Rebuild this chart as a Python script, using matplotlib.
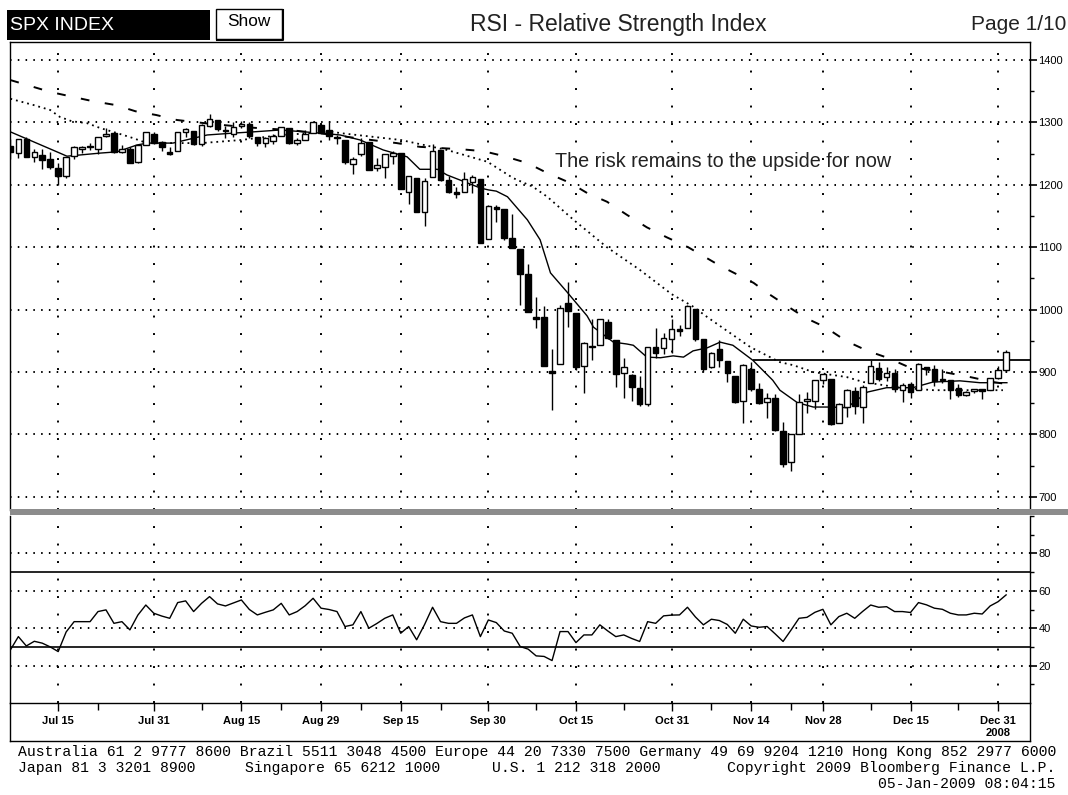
import numpy as np
import pandas as pd
import matplotlib
matplotlib.use('Agg')
import matplotlib.pyplot as plt
from matplotlib.lines import Line2D
from matplotlib.patches import Rectangle

plt.rcParams['font.family'] = ['Liberation Sans', 'DejaVu Sans']
plt.rcParams['axes.linewidth'] = 1.0

# trading days shown (NYSE holidays dropped)
holidays = ['2008-09-01', '2008-11-27', '2008-12-25', '2009-01-01']
dates = pd.bdate_range('2008-07-07', '2009-01-02')
dates = dates[~dates.isin(pd.to_datetime(holidays))]

# SPX daily candles
opens = [1262.9, 1251.8, 1273.4, 1245.3, 1248.7, 1241.6, 1226.8, 1214.7, 1246.3, 1258.2,
         1261.8, 1257.1, 1278.9, 1283.2, 1253.5, 1257.8, 1236.4, 1264.5, 1281.4, 1269.4,
         1253.3, 1254.9, 1284.0, 1286.5, 1266.3, 1294.4, 1304.8, 1288.6, 1282.1, 1293.9,
         1298.1, 1276.7, 1267.3, 1271.1, 1277.6, 1290.5, 1267.0, 1271.3, 1283.8, 1296.5,
         1287.8, 1276.6, 1271.8, 1233.2, 1249.5, 1268.0, 1227.5, 1229.0, 1245.9, 1250.9,
         1188.3, 1210.3, 1157.1, 1213.1, 1255.4, 1207.6, 1188.8, 1187.9, 1204.5, 1209.1,
         1113.8, 1164.2, 1160.6, 1115.2, 1097.6, 1057.6, 988.9, 988.4, 902.3, 912.8,
         1010.0, 994.6, 909.5, 942.3, 943.5, 980.4, 951.7, 899.1, 895.2, 874.3,
         848.9, 939.5, 939.4, 953.1, 968.7, 971.3, 1001.8, 952.4, 907.4, 936.8,
         917.2, 893.4, 853.1, 904.4, 873.2, 852.3, 859.0, 805.9, 755.8, 801.2,
         853.4, 852.9, 886.9, 888.6, 817.9, 843.6, 869.8, 844.4, 882.7, 906.5,
         892.2, 898.4, 871.8, 881.1, 871.5, 908.2, 905.0, 887.0, 887.2, 874.3,
         863.9, 869.5, 872.4, 870.6, 890.6, 903.0]
highs = [1274.0, 1274.2, 1277.4, 1257.7, 1257.1, 1253.5, 1234.4, 1245.5, 1262.3, 1262.2,
         1267.7, 1277.4, 1291.2, 1283.2, 1263.2, 1260.1, 1264.4, 1284.3, 1284.9, 1270.5,
         1260.5, 1284.9, 1291.7, 1286.5, 1297.9, 1313.2, 1304.8, 1294.0, 1300.1, 1302.2,
         1300.2, 1276.7, 1276.0, 1281.6, 1293.1, 1290.5, 1275.7, 1288.0, 1300.7, 1297.6,
         1303.0, 1280.6, 1271.8, 1244.9, 1274.4, 1268.7, 1243.9, 1250.0, 1255.1, 1250.9,
         1214.8, 1210.3, 1211.1, 1265.1, 1255.4, 1214.0, 1197.4, 1220.0, 1215.8, 1209.1,
         1168.0, 1167.0, 1160.6, 1153.8, 1097.6, 1072.9, 1021.1, 1005.3, 936.4, 1006.9,
         1044.3, 994.6, 947.7, 984.6, 985.4, 985.4, 951.7, 922.8, 896.3, 893.8,
         940.5, 970.0, 963.2, 984.4, 975.5, 1007.5, 1001.8, 952.4, 931.5, 952.0,
         917.2, 893.4, 913.0, 916.9, 882.3, 865.9, 864.6, 820.5, 801.2, 865.6,
         868.9, 887.7, 896.3, 888.6, 850.5, 873.1, 875.6, 879.4, 918.6, 916.3,
         908.3, 904.6, 883.2, 884.6, 914.7, 908.2, 911.0, 905.5, 887.4, 880.4,
         869.8, 873.7, 873.7, 891.1, 910.3, 934.7]
lows = [1240.7, 1242.8, 1244.6, 1236.8, 1225.4, 1225.0, 1200.4, 1211.4, 1241.4, 1251.8,
        1255.7, 1248.8, 1276.1, 1251.5, 1251.8, 1234.4, 1234.4, 1264.5, 1265.7, 1254.5,
        1247.5, 1254.7, 1276.0, 1264.3, 1262.1, 1292.8, 1285.6, 1274.9, 1276.4, 1290.7,
        1274.5, 1263.1, 1261.2, 1265.2, 1277.6, 1264.9, 1263.2, 1271.3, 1283.8, 1282.7,
        1272.2, 1265.6, 1232.8, 1217.2, 1247.1, 1224.5, 1221.6, 1211.5, 1233.8, 1192.7,
        1169.3, 1155.9, 1133.5, 1213.1, 1205.6, 1187.2, 1179.8, 1187.9, 1187.5, 1106.4,
        1113.8, 1140.8, 1111.4, 1098.1, 1008.0, 996.2, 971.0, 909.2, 839.8, 912.8,
        972.1, 904.0, 865.8, 918.7, 943.5, 952.5, 875.8, 858.4, 852.9, 845.8,
        845.3, 922.3, 928.5, 931.0, 958.6, 971.3, 949.9, 899.7, 906.9, 907.5,
        884.9, 850.5, 818.7, 869.9, 849.0, 826.8, 806.2, 747.8, 741.0, 801.2,
        835.0, 841.4, 881.2, 815.7, 817.9, 827.6, 833.6, 818.4, 882.7, 885.4,
        885.5, 868.7, 851.4, 857.7, 871.5, 895.9, 877.4, 883.0, 857.1, 860.1,
        861.4, 866.5, 857.1, 870.6, 889.6, 899.4]
closes = [1252.3, 1273.7, 1244.7, 1253.4, 1239.5, 1228.3, 1214.9, 1245.4, 1260.3, 1260.7,
          1260.0, 1277.0, 1282.2, 1252.5, 1257.8, 1234.4, 1263.2, 1284.3, 1267.4, 1260.3,
          1249.0, 1284.9, 1289.2, 1266.1, 1296.3, 1305.3, 1289.6, 1285.8, 1292.9, 1298.2,
          1278.6, 1266.7, 1274.5, 1277.7, 1292.2, 1266.8, 1271.5, 1281.7, 1300.7, 1282.8,
          1277.6, 1275.0, 1236.8, 1242.3, 1267.8, 1224.5, 1232.0, 1249.1, 1251.7, 1192.7,
          1213.6, 1156.4, 1206.5, 1255.1, 1207.1, 1188.2, 1185.9, 1209.2, 1213.3, 1106.4,
          1166.4, 1161.1, 1114.3, 1099.2, 1056.9, 996.2, 984.9, 909.9, 899.2, 1003.4,
          998.0, 907.8, 946.4, 940.6, 985.4, 955.1, 896.8, 908.1, 876.8, 848.9,
          940.5, 930.1, 954.1, 968.8, 966.3, 1005.8, 952.8, 904.9, 931.0, 919.2,
          899.0, 852.3, 911.3, 873.3, 850.8, 859.1, 806.6, 752.4, 800.0, 851.8,
          857.4, 887.7, 896.2, 816.2, 848.8, 870.7, 845.2, 876.1, 909.7, 888.7,
          899.2, 873.6, 879.7, 868.6, 913.2, 904.4, 885.3, 887.9, 871.6, 863.2,
          868.2, 872.8, 869.4, 890.6, 903.3, 931.8]

# RSI line
rsi = [28.4, 35.5, 30.5, 33.0, 32.0, 30.0, 27.5, 38.0, 43.5, 43.5,
       43.5, 48.9, 49.8, 42.6, 43.5, 39.1, 47.0, 52.4, 48.0, 46.5,
       45.3, 53.7, 54.6, 48.9, 53.3, 56.9, 53.0, 51.9, 53.5, 55.1,
       50.0, 47.1, 48.5, 49.8, 53.3, 47.1, 48.9, 52.0, 56.0, 50.7,
       50.0, 48.9, 40.9, 41.8, 48.9, 40.0, 42.5, 45.3, 47.1, 37.3,
       40.9, 33.8, 42.0, 51.2, 43.5, 42.6, 42.6, 45.5, 47.1, 35.5,
       44.4, 43.0, 38.5, 37.3, 30.2, 28.8, 25.2, 24.9, 22.7, 38.2,
       38.2, 32.3, 36.4, 36.4, 41.8, 38.5, 35.5, 36.4, 34.5, 32.9,
       43.5, 42.6, 46.6, 47.0, 47.1, 51.2, 46.0, 41.8, 44.8, 44.1,
       42.0, 37.3, 44.8, 41.2, 40.5, 40.9, 37.0, 32.9, 39.0, 45.3,
       45.8, 48.5, 50.1, 41.8, 46.2, 48.0, 45.3, 49.0, 52.4, 51.2,
       51.5, 48.9, 48.9, 48.4, 53.7, 52.5, 50.7, 50.1, 48.0, 47.1,
       47.1, 48.0, 47.6, 51.9, 54.2, 57.8]

# moving averages (trading-day position, level)
ma_fast_day = [0, 6.2, 7.1, 11.3, 13.4, 15.9, 17.2, 20.4, 24.7, 28, 30.5, 33.9, 38.9, 41.4,
               43.9, 46.8, 49.8, 51.4, 53.6, 54.8, 59, 60, 61, 62.4, 64.9, 66.5, 67.8, 69.9,
               72.4, 73.2, 75.7, 77.4, 78.2, 79.9, 81.6, 83.2, 84.5, 85.7, 87.5, 89.1, 90.7,
               93.2, 95.7, 96.6, 98.8, 100.8, 102.9, 105, 107.6, 110, 113.3, 115.8, 119.2,
               121.7, 125.1]
ma_fast = [1285, 1251, 1246, 1251, 1253, 1264, 1267, 1267, 1280, 1283, 1285, 1288, 1283, 1280,
           1272, 1256, 1245, 1225, 1225, 1216, 1195, 1192, 1190, 1181, 1144, 1112, 1059, 1028,
           990, 972, 948, 945, 943, 924, 923, 926, 924, 934, 939, 948, 943,
           919, 887, 871, 851, 844, 844, 843, 868, 875, 875, 884, 886,
           883, 883]
ma_mid_day = [0, 2.9, 5, 6.2, 7.7, 9.6, 11.3, 13.4, 15.4, 16.7, 18, 24, 29, 34, 40.5, 41.4, 49,
              54.8, 59.9, 63.1, 65.6, 67.4, 70.7, 74.9, 79, 83, 85.7, 87.5, 92.9, 96.6, 98.3,
              100.8, 105, 107.1, 111.7, 115.9, 120.8, 124.6]
ma_mid = [1338, 1328, 1320, 1309, 1302, 1299, 1291, 1283, 1275, 1269, 1267, 1267, 1272, 1280,
          1285, 1283, 1272, 1256, 1237, 1211, 1197, 1181, 1144, 1100, 1064, 1025, 1005, 988,
          940, 916, 911, 900, 892, 884, 875, 871, 871, 871]
ma_slow_day = [0, 2.1, 5, 7.5, 10.4, 13.2, 15.7, 18.3, 20.9, 25, 30, 35, 40, 44, 48.5, 51.4,
               54, 56.7, 59.4, 62, 64.9, 67.4, 70.3, 72.4, 74.9, 77.4, 79.9, 82.4, 85.1, 89,
               93.3, 95, 97.5, 99.8, 102.3, 104.9, 107.6, 110.1, 112.6, 117.6, 120.5, 123.4,
               125]
ma_slow = [1368, 1360, 1349, 1342, 1334, 1328, 1318, 1312, 1304, 1298, 1292, 1288, 1281, 1274,
           1267, 1261, 1259, 1257, 1254, 1246, 1235, 1219, 1203, 1187, 1173, 1152, 1132, 1116,
           1100, 1071, 1043, 1027, 1006, 987, 972, 950, 934, 923, 909, 899, 892, 884,
           881]

resistance = 920
resistance_from = '2008-11-14'

tick_dates = ['2008-07-15', '2008-07-31', '2008-08-15', '2008-08-29', '2008-09-15', '2008-09-30',
              '2008-10-15', '2008-10-31', '2008-11-14', '2008-11-28', '2008-12-15', '2008-12-31']
tick_labels = ['Jul 15', 'Jul 31', 'Aug 15', 'Aug 29', 'Sep 15', 'Sep 30',
               'Oct 15', 'Oct 31', 'Nov 14', 'Nov 28', 'Dec 15', 'Dec 31']
minor_dates = ['2008-07-22', '2008-08-08', '2008-08-22', '2008-09-08', '2008-09-22', '2008-10-08',
               '2008-10-23', '2008-11-07', '2008-11-21', '2008-12-08', '2008-12-23']

W, H = 1068, 795
def fx(px):
    return px / W
def fy(py):
    return 1 - py / H

fig = plt.figure(figsize=(W / 100, H / 100), dpi=100)
fig.patch.set_facecolor('white')

ax = fig.add_axes([fx(10), fy(510), fx(1030) - fx(10), fy(42) - fy(510)])
ax_r = fig.add_axes([fx(10), fy(703), fx(1030) - fx(10), fy(516) - fy(703)])

x = np.arange(len(dates))
o = np.array(opens); hi = np.array(highs); lo = np.array(lows); c = np.array(closes)
major_x = dates.get_indexer(pd.to_datetime(tick_dates))
minor_x = dates.get_indexer(pd.to_datetime(minor_dates))

grid_h = dict(color='black', lw=1.4, ls=(0, (0.8, 3.2)), zorder=1)
grid_v = dict(color='black', lw=1.4, ls=(0, (1, 8)), zorder=1)

# ---- price panel ----
for yv in range(700, 1401, 100):
    ax.axhline(yv, **grid_h)
for xv in major_x:
    ax.axvline(xv, **grid_v)

ax.plot(ma_slow_day, ma_slow, color='black', lw=1.4, ls=(0, (4.5, 8)), zorder=2)
ax.plot(ma_mid_day, ma_mid, color='black', lw=1.3, ls=(0, (1, 2.2)), zorder=2)
ax.plot(ma_fast_day, ma_fast, color='black', lw=1.0, zorder=2)
ax.hlines(resistance, dates.get_loc(pd.Timestamp(resistance_from)) + 0.2, 130,
          color='black', lw=1.3, zorder=2)

up = c >= o
body_lo = np.minimum(o, c)
body_h = np.maximum(np.abs(c - o), 1.6)
ax.vlines(x, lo, hi, color='black', lw=1.0, zorder=3)
ax.bar(x[up], body_h[up], bottom=body_lo[up], width=0.7, facecolor='white',
       edgecolor='black', lw=1.0, zorder=4)
ax.bar(x[~up], body_h[~up], bottom=body_lo[~up], width=0.7, facecolor='black',
       edgecolor='black', lw=1.0, zorder=4)

ax.text(68.4, 1228, 'The risk remains to the upside for now', fontsize=14.2,
        color='#222222', ha='left', va='baseline')

ax.set_xlim(-0.05, 128)
ax.set_ylim(679, 1429)
ax.yaxis.tick_right()
ax.set_yticks(range(700, 1401, 100))
ax.set_yticks(range(750, 1400, 100), minor=True)
ax.tick_params(axis='y', which='major', direction='out', length=5, width=1.2, pad=1, labelsize=8)
ax.tick_params(axis='y', which='minor', direction='out', length=3, width=1)
ax.set_xticks([])
ax.spines['bottom'].set_visible(False)

# ---- RSI panel ----
for yv in [20, 40, 60, 80]:
    ax_r.axhline(yv, **grid_h)
for yv in [30, 70]:
    ax_r.axhline(yv, color='black', lw=1.2, zorder=2)
for xv in major_x:
    ax_r.axvline(xv, **grid_v)
ax_r.plot(x, rsi, color='black', lw=1.0, zorder=3)

ax_r.set_xlim(-0.05, 128)
ax_r.set_ylim(0, 100)
ax_r.yaxis.tick_right()
ax_r.set_yticks([20, 40, 60, 80])
ax_r.set_yticks([10, 30, 50, 70, 90, 100], minor=True)
ax_r.tick_params(axis='y', which='major', direction='out', length=5, width=1.2, pad=1, labelsize=8)
ax_r.tick_params(axis='y', which='minor', direction='out', length=3, width=1)
ax_r.set_xticks(major_x)
ax_r.set_xticklabels(tick_labels, fontweight='bold', fontsize=8)
ax_r.set_xticks(minor_x, minor=True)
ax_r.tick_params(axis='x', which='major', direction='out', length=6, width=1, pad=3)
ax_r.tick_params(axis='x', which='minor', direction='out', length=5, width=1)
ax_r.spines['top'].set_visible(False)
ax_r.text(major_x[-1], -16, '2008', fontsize=8, fontweight='bold', ha='center', va='center')

# separator band between the panels
fig.add_artist(Rectangle((fx(10), fy(515)), fx(1068) - fx(10), fy(509) - fy(515),
                         transform=fig.transFigure, facecolor='#8c8c8c', edgecolor='none'))

# frame round the date labels
for xs, ys in [([10, 10], [703, 741]), ([1030, 1030], [703, 741]), ([10, 1030], [741, 741])]:
    fig.add_artist(Line2D([fx(v) for v in xs], [fy(v) for v in ys], color='black', lw=1.0,
                          transform=fig.transFigure))

# ---- header ----
fig.add_artist(Rectangle((fx(7), fy(40)), fx(210) - fx(7), fy(10) - fy(40),
                         transform=fig.transFigure, facecolor='black', edgecolor='none'))
fig.text(fx(10), fy(26), 'SPX INDEX', color='white', fontsize=14, ha='left', va='center')
fig.add_artist(Rectangle((fx(216), fy(39)), fx(282) - fx(216), fy(9) - fy(39),
                         transform=fig.transFigure, facecolor='white', edgecolor='black', lw=1.0))
fig.add_artist(Line2D([fx(217), fx(283), fx(283)], [fy(40), fy(40), fy(10)], color='black',
                      lw=1.5, transform=fig.transFigure))
fig.text(fx(249), fy(22), 'Show', color='black', fontsize=12.4, ha='center', va='center')
fig.text(fx(618), fy(24), 'RSI - Relative Strength Index', color='#222222', fontsize=16.5,
         ha='center', va='center')
fig.text(fx(1066), fy(24), 'Page 1/10', color='#222222', fontsize=15, ha='right', va='center')

# ---- footer ----
mono = dict(family='Liberation Mono', fontsize=10.64, color='black', va='center')
fig.text(fx(18), fy(752), 'Australia 61 2 9777 8600 Brazil 5511 3048 4500 Europe 44 20 7330 7500 '
         'Germany 49 69 9204 1210 Hong Kong 852 2977 6000', ha='left', **mono)
fig.text(fx(18), fy(768), 'Japan 81 3 3201 8900', ha='left', **mono)
fig.text(fx(245), fy(768), 'Singapore 65 6212 1000', ha='left', **mono)
fig.text(fx(492), fy(768), 'U.S. 1 212 318 2000', ha='left', **mono)
fig.text(fx(1055), fy(768), 'Copyright 2009 Bloomberg Finance L.P.', ha='right', **mono)
fig.text(fx(1055), fy(784), '05-Jan-2009 08:04:15', ha='right', **mono)

fig.savefig('out.png', dpi=100, facecolor='white')
